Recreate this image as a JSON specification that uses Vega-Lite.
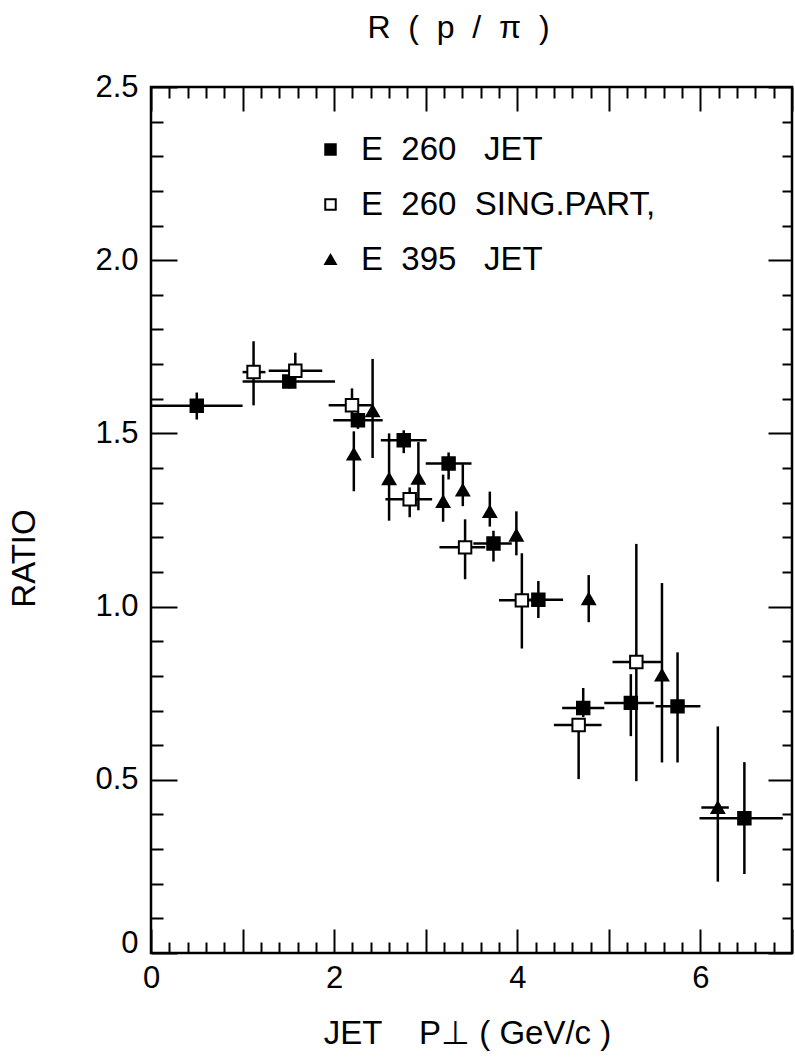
{
  "$schema": "https://vega.github.io/schema/vega-lite/v6.json",
  "width": 641,
  "height": 866,
  "autosize": "none",
  "padding": {"left": 151, "top": 87, "right": 3, "bottom": 109},
  "background": "white",
  "config": {
    "font": "Liberation Sans",
    "view": {"stroke": "black", "strokeWidth": 2.5},
    "axis": {"grid": false, "domain": false, "tickColor": "black", "tickWidth": 2, "labelColor": "black", "titleColor": "black", "labelFont": "Liberation Sans", "titleFont": "Liberation Sans", "labelFontSize": 31, "titleFontSize": 31, "titleFontWeight": "normal", "labelOverlap": false, "labelFlush": false, "labelBound": false},
    "legend": {"title": null, "orient": "none", "legendX": 163, "legendY": 46, "padding": 0, "labelFontSize": 33, "labelFont": "Liberation Sans", "labelColor": "black", "labelOffset": 14, "rowPadding": 21, "symbolSize": 110, "symbolStrokeWidth": 2, "labelLimit": 500}
  },
  "datasets": {
    "pts": [
      {"series": "E 260 JET", "x": 0.5, "y": 1.58, "xlo": 0.0, "xhi": 1.0, "ylo": 1.54, "yhi": 1.618},
      {"series": "E 260 JET", "x": 1.51, "y": 1.65, "xlo": 1.0, "xhi": 2.01, "ylo": 1.63, "yhi": 1.67},
      {"series": "E 260 JET", "x": 2.26, "y": 1.538, "xlo": 1.99, "xhi": 2.53, "ylo": 1.513, "yhi": 1.563},
      {"series": "E 260 JET", "x": 2.76, "y": 1.48, "xlo": 2.51, "xhi": 3.01, "ylo": 1.443, "yhi": 1.509},
      {"series": "E 260 JET", "x": 3.25, "y": 1.413, "xlo": 3.0, "xhi": 3.5, "ylo": 1.367, "yhi": 1.445},
      {"series": "E 260 JET", "x": 3.74, "y": 1.182, "xlo": 3.52, "xhi": 3.94, "ylo": 1.13, "yhi": 1.219},
      {"series": "E 260 JET", "x": 4.23, "y": 1.02, "xlo": 4.06, "xhi": 4.5, "ylo": 0.967, "yhi": 1.074},
      {"series": "E 260 JET", "x": 4.72, "y": 0.707, "xlo": 4.49, "xhi": 4.95, "ylo": 0.681, "yhi": 0.765},
      {"series": "E 260 JET", "x": 5.24, "y": 0.722, "xlo": 4.95, "xhi": 5.49, "ylo": 0.626, "yhi": 0.805},
      {"series": "E 260 JET", "x": 5.75, "y": 0.712, "xlo": 5.51, "xhi": 6.0, "ylo": 0.55, "yhi": 0.868},
      {"series": "E 260 JET", "x": 6.48, "y": 0.389, "xlo": 5.99, "xhi": 6.9, "ylo": 0.228, "yhi": 0.551},
      {"series": "E 260 SING.PART,", "x": 1.12, "y": 1.677, "xlo": 1.0, "xhi": 1.25, "ylo": 1.581, "yhi": 1.766},
      {"series": "E 260 SING.PART,", "x": 1.576, "y": 1.681, "xlo": 1.285, "xhi": 1.87, "ylo": 1.667, "yhi": 1.733},
      {"series": "E 260 SING.PART,", "x": 2.195, "y": 1.581, "xlo": 1.94, "xhi": 2.41, "ylo": 1.544, "yhi": 1.63},
      {"series": "E 260 SING.PART,", "x": 2.825, "y": 1.31, "xlo": 2.56, "xhi": 3.07, "ylo": 1.258, "yhi": 1.344},
      {"series": "E 260 SING.PART,", "x": 3.43, "y": 1.171, "xlo": 3.15, "xhi": 3.65, "ylo": 1.079, "yhi": 1.252},
      {"series": "E 260 SING.PART,", "x": 4.05, "y": 1.018, "xlo": 3.8, "xhi": 4.2, "ylo": 0.879, "yhi": 1.154},
      {"series": "E 260 SING.PART,", "x": 4.67, "y": 0.658, "xlo": 4.4, "xhi": 4.92, "ylo": 0.502, "yhi": 0.675},
      {"series": "E 260 SING.PART,", "x": 5.3, "y": 0.84, "xlo": 5.04, "xhi": 5.59, "ylo": 0.496, "yhi": 1.181},
      {"series": "E 395 JET", "x": 2.215, "y": 1.44, "xlo": 2.215, "xhi": 2.215, "ylo": 1.333, "yhi": 1.506},
      {"series": "E 395 JET", "x": 2.42, "y": 1.565, "xlo": 2.42, "xhi": 2.42, "ylo": 1.429, "yhi": 1.715},
      {"series": "E 395 JET", "x": 2.6, "y": 1.369, "xlo": 2.6, "xhi": 2.6, "ylo": 1.248, "yhi": 1.5},
      {"series": "E 395 JET", "x": 2.92, "y": 1.37, "xlo": 2.92, "xhi": 2.92, "ylo": 1.278, "yhi": 1.475},
      {"series": "E 395 JET", "x": 3.19, "y": 1.303, "xlo": 3.19, "xhi": 3.19, "ylo": 1.245, "yhi": 1.381},
      {"series": "E 395 JET", "x": 3.405, "y": 1.336, "xlo": 3.405, "xhi": 3.405, "ylo": 1.29, "yhi": 1.411},
      {"series": "E 395 JET", "x": 3.7, "y": 1.274, "xlo": 3.7, "xhi": 3.7, "ylo": 1.231, "yhi": 1.332},
      {"series": "E 395 JET", "x": 3.99, "y": 1.206, "xlo": 3.99, "xhi": 3.99, "ylo": 1.148, "yhi": 1.275},
      {"series": "E 395 JET", "x": 4.78, "y": 1.022, "xlo": 4.78, "xhi": 4.78, "ylo": 0.955, "yhi": 1.091},
      {"series": "E 395 JET", "x": 5.58, "y": 0.802, "xlo": 5.58, "xhi": 5.58, "ylo": 0.55, "yhi": 1.068},
      {"series": "E 395 JET", "x": 6.19, "y": 0.42, "xlo": 6.01, "xhi": 6.31, "ylo": 0.206, "yhi": 0.654}
    ]
  },
  "data": {"name": "pts"},
  "resolve": {"axis": {"x": "independent", "y": "independent"}},
  "layer": [
    {
      "mark": {"type": "rule", "color": "black", "strokeWidth": 2.5},
      "encoding": {
        "x": {"field": "xlo", "type": "quantitative", "scale": {"domain": [0, 7], "nice": false, "zero": false},
          "axis": {"orient": "bottom", "title": "JET\u00a0\u00a0\u00a0\u00a0P⊥\u00a0(\u00a0GeV/c\u00a0)", "titleFontSize": 33, "titleX": 316, "titleY": 90, "titleAlign": "center", "titleBaseline": "alphabetic",
            "values": [0,0.2,0.4,0.6,0.8,1,1.2,1.4,1.6,1.8,2,2.2,2.4,2.6,2.8,3,3.2,3.4,3.6,3.8,4,4.2,4.4,4.6,4.8,5,5.2,5.4,5.6,5.8,6,6.2,6.4,6.6,6.8,7],
            "tickSize": {"condition": {"test": "datum.value % 1 === 0", "value": -24}, "value": -11},
            "labelExpr": "datum.value % 2 === 0 && datum.value < 7 ? format(datum.value, 'd') : ''",
            "labelPadding": 34}},
        "x2": {"field": "xhi"},
        "y": {"field": "y", "type": "quantitative", "scale": {"domain": [0, 2.5], "nice": false, "zero": false},
          "axis": {"orient": "left", "title": "RATIO", "titleFontSize": 33, "titleX": -127, "titleY": 471, "titleAngle": -90, "titleAlign": "center", "titleBaseline": "middle",
            "values": [0,0.1,0.2,0.3,0.4,0.5,0.6,0.7,0.8,0.9,1,1.1,1.2,1.3,1.4,1.5,1.6,1.7,1.8,1.9,2,2.1,2.2,2.3,2.4,2.5],
            "tickSize": {"condition": {"test": "round(datum.value*10) % 5 === 0", "value": -26}, "value": -12},
            "labelExpr": "round(datum.value*10) % 5 === 0 ? (datum.value === 0 ? '0' : format(datum.value, '.1f')) : ''",
            "labelOffset": {"condition": {"test": "datum.value === 0", "value": -10}, "value": 0},
            "labelPadding": 39}}
      }
    },
    {
      "mark": {"type": "rule", "color": "black", "strokeWidth": 2.5},
      "encoding": {
        "x": {"field": "x", "type": "quantitative",
          "axis": {"orient": "top", "title": "R\u00a0\u00a0(\u00a0\u00a0p\u00a0\u00a0/\u00a0\u00a0π\u00a0\u00a0)", "titleFontSize": 32, "titleX": 307, "titleY": -50, "titleAlign": "center", "titleBaseline": "alphabetic", "labels": false,
            "values": [0,0.2,0.4,0.6,0.8,1,1.2,1.4,1.6,1.8,2,2.2,2.4,2.6,2.8,3,3.2,3.4,3.6,3.8,4,4.2,4.4,4.6,4.8,5,5.2,5.4,5.6,5.8,6,6.2,6.4,6.6,6.8,7],
            "tickSize": {"condition": {"test": "datum.value % 1 === 0", "value": -24}, "value": -11}}},
        "y": {"field": "ylo", "type": "quantitative",
          "axis": {"orient": "right", "title": null, "labels": false,
            "values": [0,0.1,0.2,0.3,0.4,0.5,0.6,0.7,0.8,0.9,1,1.1,1.2,1.3,1.4,1.5,1.6,1.7,1.8,1.9,2,2.1,2.2,2.3,2.4,2.5],
            "tickSize": {"condition": {"test": "round(datum.value*10) % 5 === 0", "value": -24}, "value": -10}}},
        "y2": {"field": "yhi"}
      }
    },
    {
      "mark": {"type": "point", "filled": false, "strokeWidth": 2, "opacity": 1, "size": 155},
      "encoding": {
        "x": {"field": "x", "type": "quantitative", "axis": null},
        "y": {"field": "y", "type": "quantitative", "axis": null},
        "shape": {"field": "series", "type": "nominal",
          "scale": {"domain": ["E 260 JET", "E 260 SING.PART,", "E 395 JET"], "range": ["square", "square", "triangle-up"]},
          "legend": {"labelExpr": "datum.label === 'E 260 JET' ? 'E\u00a0\u00a0260\u00a0\u00a0\u00a0JET' : datum.label === 'E 395 JET' ? 'E\u00a0\u00a0395\u00a0\u00a0\u00a0JET' : 'E\u00a0\u00a0260\u00a0\u00a0SING.PART,'"}},
        "fill": {"field": "series", "type": "nominal",
          "scale": {"domain": ["E 260 JET", "E 260 SING.PART,", "E 395 JET"], "range": ["black", "white", "black"]},
          "legend": {"labelExpr": "datum.label === 'E 260 JET' ? 'E\u00a0\u00a0260\u00a0\u00a0\u00a0JET' : datum.label === 'E 395 JET' ? 'E\u00a0\u00a0395\u00a0\u00a0\u00a0JET' : 'E\u00a0\u00a0260\u00a0\u00a0SING.PART,'"}},
        "stroke": {"field": "series", "type": "nominal",
          "scale": {"domain": ["E 260 JET", "E 260 SING.PART,", "E 395 JET"], "range": ["black", "black", "black"]},
          "legend": {"labelExpr": "datum.label === 'E 260 JET' ? 'E\u00a0\u00a0260\u00a0\u00a0\u00a0JET' : datum.label === 'E 395 JET' ? 'E\u00a0\u00a0395\u00a0\u00a0\u00a0JET' : 'E\u00a0\u00a0260\u00a0\u00a0SING.PART,'"}}
      }
    }
  ]
}
